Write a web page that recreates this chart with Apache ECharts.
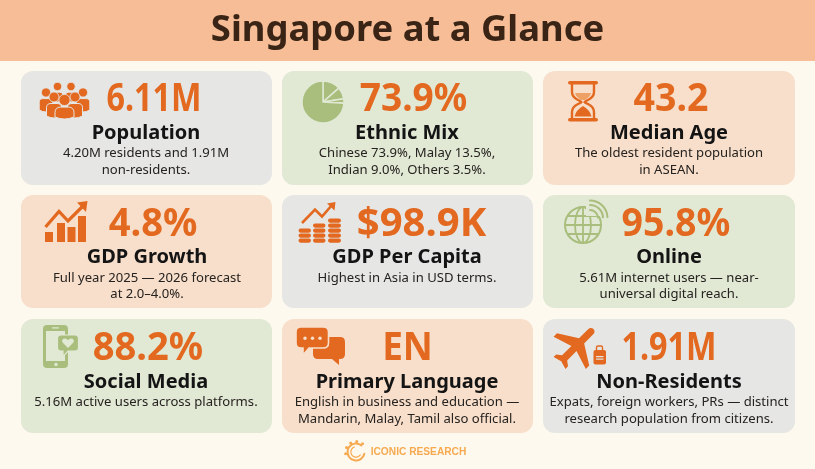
<!DOCTYPE html>
<html><head><meta charset="utf-8">
<style>html,body{margin:0;padding:0;background:#FEF9EF}#c{width:815px;height:469px}</style>
<script src="https://cdn.jsdelivr.net/npm/echarts@6/dist/echarts.min.js"></script>
</head><body><div id="c"></div>
<script>
// ---- content ----
const pageTitle = 'Singapore at a Glance';
const brand = 'ICONIC RESEARCH';
const stats = ['6.11M','73.9%','43.2','4.8%','$98.9K','95.8%','88.2%','EN','1.91M'];
const labels = ['Population','Ethnic Mix','Median Age','GDP Growth','GDP Per Capita','Online','Social Media','Primary Language','Non-Residents'];
const notes = [
 ['4.20M residents and 1.91M','non-residents.'],
 ['Chinese 73.9%, Malay 13.5%,','Indian 9.0%, Others 3.5%.'],
 ['The oldest resident population','in ASEAN.'],
 ['Full year 2025 — 2026 forecast','at 2.0–4.0%.'],
 ['Highest in Asia in USD terms.'],
 ['5.61M internet users — near-','universal digital reach.'],
 ['5.16M active users across platforms.'],
 ['English in business and education —','Mandarin, Malay, Tamil also official.'],
 ['Expats, foreign workers, PRs — distinct','research population from citizens.']
];
const ethnicGroups = ['Malay','Indian','Others','Chinese'];
const ethnicShares = [13.5,9.0,3.5,73.9];

// ---- layout & style ----
const ORANGE='#E2691F', GREEN='#A9BE7C', INK='#141414';
const GREY_C='#E6E6E5', GREEN_C='#E1E9D5', PEACH_C='#F8DFCB';
const tones=[GREY_C,GREEN_C,PEACH_C,PEACH_C,GREY_C,GREEN_C,GREEN_C,PEACH_C,GREY_C];
const colX=[[21,272],[282,533],[543,795]];
const rowY=[[71,185],[195,308],[319,433]];
const statX=[154,413.5,671,153,421.5,676,148,407.5,669];
const statScale=[0.84,0.965,0.975,0.99,1.04,0.975,0.99,0.96,0.84];
const labelX=[146,407,669,147,407,669,146,407,669];
const textY=[[100,133.5,153.5,170],[225,257.5,278,294.5],[349,382.5,402.5,419]];

const els=[];
let pathId=0;
const fill=(c)=>({fill:c});
const line=(c,w)=>({stroke:c,lineWidth:w,fill:'none',lineCap:'round',lineJoin:'round'});
const rect=(x,y,w,h,r,style)=>els.push({type:'rect',shape:{x,y,width:w,height:h,r},style});
const circ=(cx,cy,r,style)=>els.push({type:'circle',shape:{cx,cy,r},style});
const path=(d,style,extra)=>{
  const name='iconPath'+(pathId++);
  echarts.graphic.registerShape(name,echarts.graphic.extendPath(d,{}));
  els.push(Object.assign({type:name,style},extra||{}));
};
const arc=(cx,cy,r,a,b,style)=>els.push({type:'arc',shape:{cx,cy,r,startAngle:a,endAngle:b,clockwise:true},style});
const txt=(t,x,y,size,weight,color,sx)=>els.push({type:'text',x,y,scaleX:sx||1,style:{text:t,align:'center',verticalAlign:'middle',fontSize:size,fontWeight:weight,fontFamily:'"Noto Sans"',fill:color}});

// backdrop
rect(0,0,815,469,0,fill('#FEF9EF'));
rect(0,0,815,61,0,fill('#F7BD96'));

// cards
tones.forEach((c,i)=>{
  const [x0,x1]=colX[i%3],[y0,y1]=rowY[Math.floor(i/3)];
  rect(x0,y0,x1-x0,y1-y0,12,fill(c));
});

// people icon
function person(cx,hy,r,w,bot,tone){
  path(`M${cx-w} ${bot} L${cx-w} ${hy+r+w*0.75} Q${cx-w} ${hy+r+1.5} ${cx-w*0.4} ${hy+r+1.5} L${cx+w*0.4} ${hy+r+1.5} Q${cx+w} ${hy+r+1.5} ${cx+w} ${hy+r+w*0.75} L${cx+w} ${bot} Q${cx} ${bot+4} ${cx-w} ${bot} Z`,
    {fill:ORANGE,stroke:tone,lineWidth:1});
  circ(cx,hy,r,{fill:ORANGE,stroke:tone,lineWidth:0.8});
}
person(57.5,86.5,4.2,5.5,100,GREY_C); person(71,86.5,4.2,5.5,100,GREY_C);
person(46,92.5,4.6,6.8,110,GREY_C); person(83,92.5,4.6,6.8,110,GREY_C);
person(54,97,5,7.5,116,GREY_C); person(75,97,5,7.5,116,GREY_C);
person(64.5,100,5.6,9.5,117,GREY_C);

// hourglass
rect(568,81,30,3.6,1.8,fill(ORANGE)); rect(568,118,30,3.6,1.8,fill(ORANGE));
path('M572 84 L572 92 Q572 97 578 100 Q581.5 101.5 581.5 102 Q581.5 102.5 578 104 Q572 107 572 112 L572 118 M594 84 L594 92 Q594 97 588 100 Q584.5 101.5 584.5 102 Q584.5 102.5 588 104 Q594 107 594 112 L594 118',line(ORANGE,2.4));
path('M575 93 L591 93 Q590 97 585 100 L581 100 Q576 97 575 93 Z',fill('#EFA064'));
path('M574.5 116.5 Q576 110 583 106 Q590 110 591.5 116.5 Z',fill(ORANGE));

// growth icon
rect(45,232,8,10,0,fill(ORANGE)); rect(57,223,8,19,0,fill(ORANGE));
rect(67.5,227,8,15,0,fill(ORANGE)); rect(78,216,8,26,0,fill(ORANGE));
path('M45.5 227 L59 211.5 L68 221 L83 206',{stroke:ORANGE,lineWidth:3.2,fill:'none',lineJoin:'miter'});
path('M77 202.5 L87.5 201 L86 212 Z',fill(ORANGE));

// coins icon
function coins(x,w,top,n){ for(let k=0;k<n;k++){ rect(x,top+k*5,w,4.2,2.1,fill(ORANGE)); } }
coins(298.5,12.5,228.5,3); coins(313,12.5,223.5,4); coins(328,13,218.5,5);
path('M302 223 L315 209.5 L322 216.5 L332 205',{stroke:ORANGE,lineWidth:2.6,fill:'none',lineJoin:'miter'});
path('M327 203.5 L335.5 202 L334.5 210.5 Z',fill(ORANGE));

// globe icon
circ(583,225,18,line(GREEN,2));
els.push({type:'ellipse',shape:{cx:583,cy:225,rx:8,ry:18},style:line(GREEN,1.8)});
path('M583 207 L583 243 M565 225 L601 225 M568 216 L598 216 M568 234 L598 234',line(GREEN,1.8));
rect(586,200,22,16,0,fill(GREEN_C));
arc(590,218,8,-Math.PI/2,-0.05,line(GREEN,2));
arc(590,218,13,-Math.PI/2,-0.05,line(GREEN,2));
arc(590,218,17.5,-Math.PI/2,-0.05,line(GREEN,2));

// phone icon
rect(43,325,25,43,4,fill(GREEN));
rect(46,331,19,30,0,fill(GREEN_C));
rect(52,327.2,7,1.4,0.7,fill(GREEN_C));
circ(56,364.5,1.7,fill(GREEN_C));
path('M61 335 L75 335 Q78.5 335 78.5 338.5 L78.5 347.5 Q78.5 351 75 351 L68 351 L63 356.5 L63 351 L61 351 Q57.5 351 57.5 347.5 L57.5 338.5 Q57.5 335 61 335 Z',{fill:GREEN,stroke:GREEN_C,lineWidth:1.2});
path('M68 348 L62.8 342.8 Q61.2 340 63.6 338.8 Q66.4 337.8 68 340.2 Q69.6 337.8 72.4 338.8 Q74.8 340 73.2 342.8 Z',fill(GREEN_C));

// chat icon
path('M316 337 L340 337 Q345 337 345 342 L345 354 Q345 359 340 359 L339 359 L339 365 L332 359 L318 359 Q313 359 313 354 L313 340 Q313 337 316 337 Z',fill(ORANGE));
path('M301 327 L323 327 Q328.5 327 328.5 332 L328.5 343 Q328.5 348 323 348 L309 348 L303 355 L303 348 L301 348 Q296 348 296 343 L296 332 Q296 327 301 327 Z',{fill:ORANGE,stroke:PEACH_C,lineWidth:1.6});
[305,312.5,320].forEach(x=>circ(x,338.3,1.7,fill(PEACH_C)));

// plane + bag icon
path('M21 16v-2l-8-5V3.5c0-.83-.67-1.5-1.5-1.5S10 2.67 10 3.5V9l-8 5v2l8-2.5V19l-2 1.5V22l3.5-1 3.5 1v-1.5L13 19v-5.5l8 2.5z',
  fill(ORANGE),{x:576.5-11.5,y:346-12,originX:11.5,originY:12,rotation:-Math.PI/4,scaleX:2.4,scaleY:2.4});
path('M596.5 350 L596.5 347.5 Q596.5 346 598 346 L601 346 Q602.5 346 602.5 347.5 L602.5 350',line(ORANGE,1.4));
rect(593.5,350,12.5,14.5,2,fill(ORANGE));
rect(596,356,7.5,1.2,0,fill(GREY_C)); rect(596,358.5,7.5,1.2,0,fill(GREY_C));

// card text
stats.forEach((s,i)=>{
  const row=textY[Math.floor(i/3)];
  txt(s,statX[i],row[0],38.5,700,ORANGE,statScale[i]);
  txt(labels[i],labelX[i],row[1],20,700,INK);
  notes[i].forEach((n,k)=>txt(n,labelX[i],row[2+k],13.1,400,'#26221F'));
});

// footer brand
const BR='#F6A94F';
arc(356,452,8.5,0.2,5.4,line(BR,2));
arc(356,452,5.2,0.6,4.4,line(BR,1.2));
[-2.7,-2.1,-1.5,-0.9,-3.3].forEach(a=>circ(356+10.5*Math.cos(a),452+10.5*Math.sin(a),1.5,fill(BR)));
els.push({type:'text',x:418.5,y:452,style:{text:brand,align:'center',verticalAlign:'middle',fontSize:10.2,fontWeight:700,fontFamily:'"Liberation Sans"',fill:BR}});

const chart=echarts.init(document.getElementById('c'),null,{renderer:'canvas'});
chart.setOption({
  animation:false,
  title:{text:pageTitle,left:'center',top:8,textStyle:{fontFamily:'"Noto Sans"',fontSize:36.4,fontWeight:700,color:'#3A2415'}},
  graphic:{elements:els},
  series:[{type:'pie',center:[323,102],radius:[0,21],startAngle:90,silent:true,label:{show:false},
    itemStyle:{color:GREEN,borderColor:GREEN_C,borderWidth:1.5},
    data:ethnicGroups.map((n,i)=>({name:n,value:ethnicShares[i]}))}]
});
</script></body></html>
